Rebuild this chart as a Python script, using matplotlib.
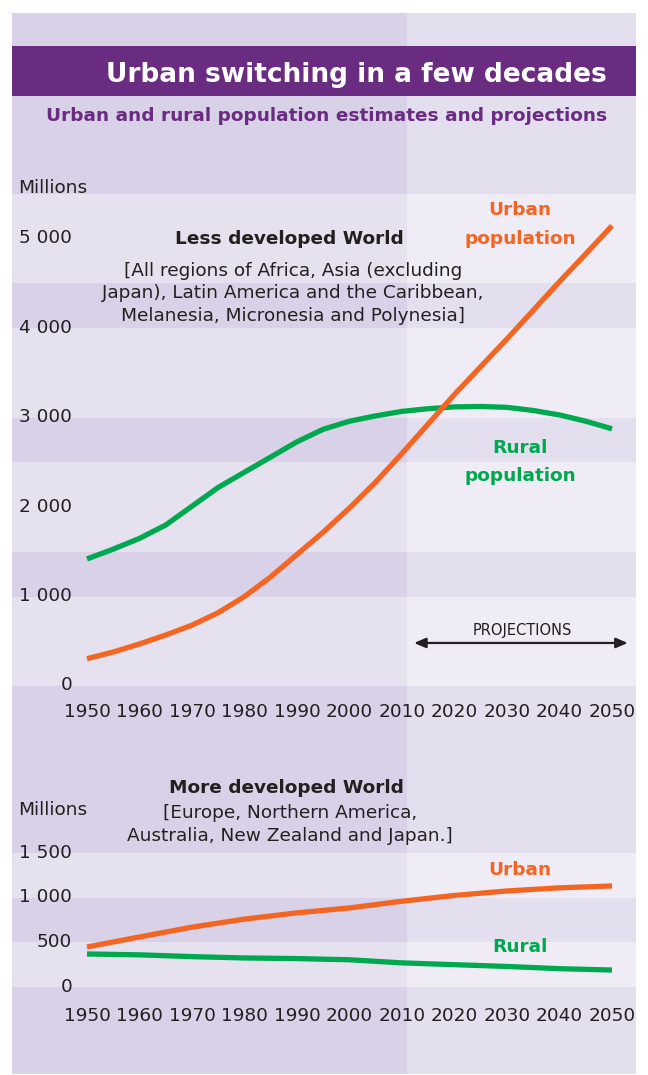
import matplotlib
matplotlib.use("Agg")
import matplotlib.pyplot as plt
import matplotlib.transforms as mtransforms
from matplotlib.patches import Rectangle

# ---- data (millions) ----
years = [1950, 1955, 1960, 1965, 1970, 1975, 1980, 1985, 1990, 1995, 2000,
         2005, 2010, 2015, 2020, 2025, 2030, 2035, 2040, 2045, 2050]
less_urban = [305, 380, 470, 570, 680, 820, 1000, 1220, 1470, 1720, 1990,
              2280, 2600, 2930, 3260, 3570, 3880, 4200, 4520, 4830, 5145]
less_rural = [1420, 1530, 1650, 1800, 2010, 2220, 2390, 2560, 2730, 2870, 2960,
              3020, 3070, 3100, 3120, 3125, 3115, 3080, 3030, 2960, 2875]

decades = [1950, 1960, 1970, 1980, 1990, 2000, 2010, 2020, 2030, 2040, 2050]
more_urban = [448, 560, 670, 760, 830, 885, 960, 1025, 1075, 1110, 1131]
more_rural = [370, 360, 340, 325, 318, 305, 270, 250, 230, 205, 190]

less_ticks = [0, 1000, 2000, 3000, 4000, 5000]
less_ticklabels = ["0", "1 000", "2 000", "3 000", "4 000", "5 000"]
less_bands = [(0, 1000), (1500, 2500), (3000, 4000), (4500, 5500)]
more_ticks = [0, 500, 1000, 1500]
more_ticklabels = ["0", "500", "1 000", "1 500"]
more_bands = [(0, 500), (1000, 1500)]

projection_start = 2011
arrow_from, arrow_to, arrow_level = 2012.3, 2053.0, 481

# ---- colours ----
dark_left = "#d9d1e7"
dark_right = "#e4dfee"
light_left = "#e6e1ef"
light_right = "#efecf5"
purple = "#6a2c81"
orange = "#f26522"
green = "#00a84f"
ink = "#231f20"

W, H = 648, 1075
PX0, PX1 = 12, 636           # panel edges (pixels)
X1950, PPY = 87, 5.25        # pixel of 1950, pixels per year


def x_of(year):
    return X1950 + (year - 1950) * PPY


def rect(x0, y0, x1, y1):
    return [x0 / W, 1 - y1 / H, (x1 - x0) / W, (y1 - y0) / H]


def fx(x):
    return x / W


def fy(y):
    return 1 - y / H


fig = plt.figure(figsize=(W / 100, H / 100), dpi=100, facecolor="white")

# background panel
ax_bg = fig.add_axes([0, 0, 1, 1], zorder=0)
ax_bg.set_xlim(0, W)
ax_bg.set_ylim(H, 0)
ax_bg.axis("off")
xs = x_of(projection_start)
ax_bg.add_patch(Rectangle((PX0, 13), xs - PX0, 1074 - 13, color=dark_left, lw=0))
ax_bg.add_patch(Rectangle((xs, 13), PX1 - xs, 1074 - 13, color=dark_right, lw=0))
ax_bg.add_patch(Rectangle((PX0, 46), PX1 - PX0, 50, color=purple, lw=0))

xlim = (1950 - (X1950 - PX0) / PPY, 1950 + (PX1 - X1950) / PPY)
frac = (xs - PX0) / (PX1 - PX0)


def setup_chart(ax, ymax, bands, ticks, ticklabels, xpad):
    ax.set_facecolor("none")
    for s in ax.spines.values():
        s.set_visible(False)
    ax.set_xlim(*xlim)
    ax.set_ylim(0, ymax)
    for lo, hi in bands:
        ax.axhspan(lo, hi, xmin=0, xmax=frac, color=light_left, lw=0, zorder=0)
        ax.axhspan(lo, hi, xmin=frac, xmax=1, color=light_right, lw=0, zorder=0)
    ax.set_xticks(decades)
    ax.set_xticklabels([str(d) for d in decades], fontsize=13.3, color=ink)
    ax.set_yticks(ticks)
    ax.set_yticklabels(ticklabels, fontsize=13.3, color=ink)
    ax.tick_params(axis="x", length=0, pad=xpad)
    ax.tick_params(axis="y", length=0, pad=-(72 - PX0) * 0.72)
    off = mtransforms.ScaledTranslation(0, 2.5 / 100, fig.dpi_scale_trans)
    for lab in ax.get_yticklabels():
        lab.set_transform(lab.get_transform() + off)


# ---- less developed world ----
ax1 = fig.add_axes(rect(PX0, 194, PX1, 686), zorder=1)
setup_chart(ax1, 5500, less_bands, less_ticks, less_ticklabels, 12.2)
ax1.plot(years, less_rural, color=green, lw=3.8, solid_capstyle="butt", zorder=3)
ax1.plot(years, less_urban, color=orange, lw=3.8, solid_capstyle="butt", zorder=4)
ax1.annotate("", xy=(arrow_to, arrow_level), xytext=(arrow_from, arrow_level),
             arrowprops=dict(arrowstyle="<|-|>,head_length=0.7,head_width=0.3",
                             color=ink, lw=1.6, shrinkA=0, shrinkB=0), zorder=5)

# ---- more developed world ----
ax2 = fig.add_axes(rect(PX0, 853, PX1, 987), zorder=1)
setup_chart(ax2, 1500, more_bands, more_ticks, more_ticklabels, 14.4)
ax2.plot(decades, more_rural, color=green, lw=3.8, solid_capstyle="butt", zorder=3)
ax2.plot(decades, more_urban, color=orange, lw=3.8, solid_capstyle="butt", zorder=4)

# ---- texts ----
fig.text(fx(607), fy(82), "Urban switching in a few decades", color="white",
         fontsize=19, fontweight="bold", ha="right", va="baseline")
fig.text(fx(607), fy(121), "Urban and rural population estimates and projections",
         color=purple, fontsize=13.3, fontweight="bold", ha="right", va="baseline")

fig.text(fx(18), fy(193), "Millions", color=ink, fontsize=13.3, va="baseline")
fig.text(fx(289), fy(244), "Less developed World", color=ink, fontsize=13.3,
         fontweight="bold", ha="center", va="baseline")
for i, line in enumerate(["[All regions of Africa, Asia (excluding",
                          "Japan), Latin America and the Caribbean,",
                          "Melanesia, Micronesia and Polynesia]"]):
    fig.text(fx(293), fy(276 + 22.5 * i), line, color=ink, fontsize=13.3,
             ha="center", va="baseline")
fig.text(fx(520), fy(215), "Urban", color=orange, fontsize=13.3,
         fontweight="bold", ha="center", va="baseline")
fig.text(fx(520), fy(244), "population", color=orange, fontsize=13.3,
         fontweight="bold", ha="center", va="baseline")
fig.text(fx(520), fy(453), "Rural", color=green, fontsize=13.3,
         fontweight="bold", ha="center", va="baseline")
fig.text(fx(520), fy(481), "population", color=green, fontsize=13.3,
         fontweight="bold", ha="center", va="baseline")
fig.text(fx(522), fy(635), "PROJECTIONS", color=ink, fontsize=10.5,
         ha="center", va="baseline")

fig.text(fx(18), fy(815), "Millions", color=ink, fontsize=13.3, va="baseline")
fig.text(fx(286), fy(793), "More developed World", color=ink, fontsize=13.3,
         fontweight="bold", ha="center", va="baseline")
for i, line in enumerate(["[Europe, Northern America,",
                          "Australia, New Zealand and Japan.]"]):
    fig.text(fx(290), fy(818 + 23 * i), line, color=ink, fontsize=13.3,
             ha="center", va="baseline")
fig.text(fx(520), fy(875), "Urban", color=orange, fontsize=13.3,
         fontweight="bold", ha="center", va="baseline")
fig.text(fx(520), fy(952), "Rural", color=green, fontsize=13.3,
         fontweight="bold", ha="center", va="baseline")

fig.savefig("out.png", dpi=100, facecolor="white")
